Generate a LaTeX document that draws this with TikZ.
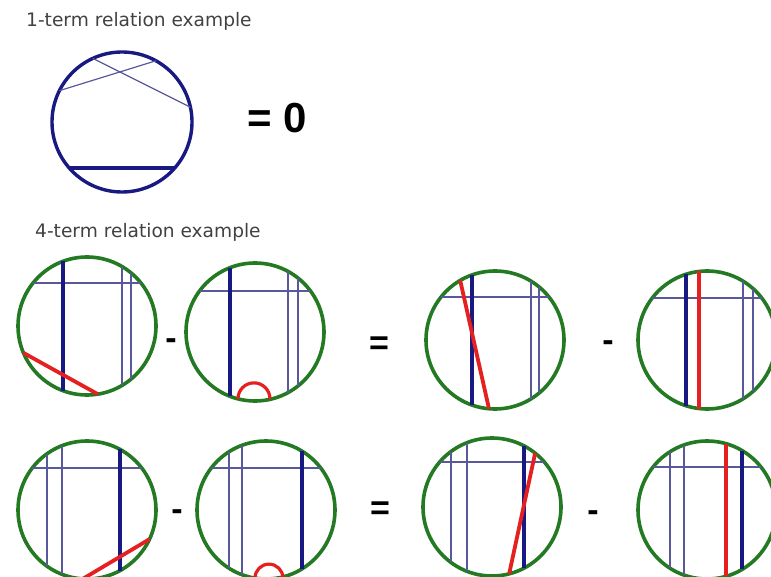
\documentclass[tikz,border=0pt]{standalone}
\usepackage{fontspec}
\setmainfont{DejaVu Sans}
\newfontfamily\signfont{Liberation Sans}
\usetikzlibrary{calc}
\usepackage{xcolor}
\definecolor{chordnavy}{RGB}{25,25,130}
\definecolor{chordgreen}{RGB}{35,122,35}
\definecolor{chordred}{RGB}{228,32,32}
\definecolor{chordthin}{RGB}{88,88,155}
\definecolor{labelgray}{RGB}{65,65,65}
\tikzset{
  ring/.style={circle,draw=chordgreen,line width=3.6pt,minimum size=138pt,
    inner sep=0pt,outer sep=0pt},
  wring/.style={circle,draw=chordnavy,line width=3.4pt,minimum size=140pt,
    inner sep=0pt,outer sep=0pt},
  thinchord/.style={draw=chordthin,line width=1.4pt},
  bluechord/.style={draw=chordnavy,line width=4pt},
  redchord/.style={draw=chordred,line width=3.8pt},
  title/.style={font=\fontsize{18.6}{22}\selectfont,text=labelgray,
    inner sep=0pt,anchor=base west},
  sign/.style={font=\signfont\bfseries\fontsize{34}{40}\selectfont,inner sep=0pt},
}
% point on the circle of a diagram, at an angle
\newcommand{\rim}[2]{($(#1)+(#2:69pt)$)}

\begin{document}
\begin{tikzpicture}[x=1pt,y=-1pt]
  \useasboundingbox (0,0) rectangle (771,577);

  % 1-term relation
  \node[title] (t1) at (26,27) {1-term relation example};
  \node[wring] (d0) at (122,122) {};
  \draw[thinchord,line width=1.2pt] ($(d0)+(153.4:70pt)$) -- ($(d0)+(61:70pt)$);
  \draw[thinchord,line width=1.2pt] ($(d0)+(114.7:70pt)$) -- ($(d0)+(12.2:70pt)$);
  \draw[bluechord,line width=3.4pt] ($(d0)+(221:70pt)$) -- ($(d0)+(319:70pt)$);
  \node[sign,font=\signfont\bfseries\fontsize{42}{48}\selectfont] (eq0) at (277,118) {= 0};

  % 4-term relation, first row
  \node[title] (t2) at (35,238) {4-term relation example};
  \node[ring] (d1) at (87,326) {};
  \draw[thinchord] \rim{d1}{141.4} -- \rim{d1}{38.6};
  \draw[thinchord] \rim{d1}{59.5} -- \rim{d1}{-59.5};
  \draw[thinchord] \rim{d1}{50.4} -- \rim{d1}{-50.4};
  \draw[bluechord] \rim{d1}{110.4} -- \rim{d1}{-110.4};
  \draw[redchord] \rim{d1}{202.9} -- \rim{d1}{279};
  \node[sign] (m1) at (171,344) {-};

  \node[ring] (d2) at (255,332) {};
  \draw[thinchord] \rim{d2}{143.5} -- \rim{d2}{36.5};
  \draw[thinchord] \rim{d2}{61.4} -- \rim{d2}{-61.4};
  \draw[thinchord] \rim{d2}{51.4} -- \rim{d2}{-51.4};
  \draw[bluechord] \rim{d2}{111.2} -- \rim{d2}{-111.2};
  \draw[redchord,line width=3.2pt] \rim{d2}{255.7} arc[start angle=180,end angle=0,radius=16pt];
  \node[sign] (e1) at (379,346) {=};

  \node[ring] (d3) at (495,340) {};
  \draw[thinchord] \rim{d3}{141.4} -- \rim{d3}{38.6};
  \draw[thinchord] \rim{d3}{58.6} -- \rim{d3}{-58.6};
  \draw[thinchord] \rim{d3}{50.4} -- \rim{d3}{-50.4};
  \draw[bluechord] \rim{d3}{109.5} -- \rim{d3}{-109.5};
  \draw[redchord] \rim{d3}{120.3} -- \rim{d3}{265};
  \node[sign] (m2) at (608,346) {-};

  \node[ring] (d4) at (707,340) {};
  \draw[thinchord] \rim{d4}{142.5} -- \rim{d4}{37.5};
  \draw[thinchord] \rim{d4}{58.6} -- \rim{d4}{-58.6};
  \draw[thinchord] \rim{d4}{48.2} -- \rim{d4}{-48.2};
  \draw[bluechord] \rim{d4}{107.7} -- \rim{d4}{-107.7};
  \draw[redchord] \rim{d4}{96.7} -- \rim{d4}{-96.7};

  % 4-term relation, second row
  \node[ring] (d5) at (87,510) {};
  \draw[thinchord] \rim{d5}{142.5} -- \rim{d5}{37.5};
  \draw[thinchord] \rim{d5}{125.4} -- \rim{d5}{-125.4};
  \draw[thinchord] \rim{d5}{111.2} -- \rim{d5}{-111.2};
  \draw[bluechord] \rim{d5}{61.4} -- \rim{d5}{-61.4};
  \draw[redchord] \rim{d5}{335} -- \rim{d5}{266.5};
  \node[sign] (m3) at (177,515) {-};

  \node[ring] (d6) at (266,510) {};
  \draw[thinchord] \rim{d6}{142.5} -- \rim{d6}{37.5};
  \draw[thinchord] \rim{d6}{122.4} -- \rim{d6}{-122.4};
  \draw[thinchord] \rim{d6}{110.4} -- \rim{d6}{-110.4};
  \draw[bluechord] \rim{d6}{58.6} -- \rim{d6}{-58.6};
  \draw[redchord,line width=3.2pt] \rim{d6}{260.8} arc[start angle=180,end angle=0,radius=14pt];
  \node[sign] (e2) at (380,511) {=};

  \node[ring] (d7) at (492,507) {};
  \draw[thinchord] \rim{d7}{139.3} -- \rim{d7}{40.7};
  \draw[thinchord] \rim{d7}{126.5} -- \rim{d7}{-126.5};
  \draw[thinchord] \rim{d7}{111.2} -- \rim{d7}{-111.2};
  \draw[bluechord] \rim{d7}{62.4} -- \rim{d7}{-62.4};
  \draw[redchord] \rim{d7}{51.3} -- \rim{d7}{284.4};
  \node[sign] (m4) at (593,516) {-};

  \node[ring] (d8) at (707,510) {};
  \draw[thinchord] \rim{d8}{141.4} -- \rim{d8}{38.6};
  \draw[thinchord] \rim{d8}{122.4} -- \rim{d8}{-122.4};
  \draw[thinchord] \rim{d8}{109.5} -- \rim{d8}{-109.5};
  \draw[bluechord] \rim{d8}{59.5} -- \rim{d8}{-59.5};
  \draw[redchord] \rim{d8}{74} -- \rim{d8}{-74};
\end{tikzpicture}
\end{document}
